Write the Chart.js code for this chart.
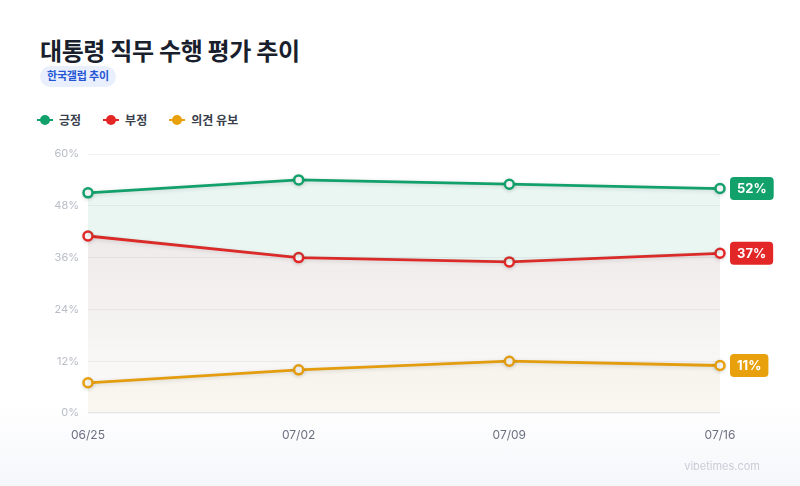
<!DOCTYPE html>
<html lang="ko">
<head>
<meta charset="UTF-8">
<title>대통령 직무 수행 평가 추이</title>
<script src="https://cdn.jsdelivr.net/npm/chart.js@4.4.1/dist/chart.umd.min.js"></script>
<style>
  html, body { margin: 0; padding: 0; }
  body {
    width: 800px; height: 486px; overflow: hidden; position: relative;
    font-family: Inter, "Noto Sans CJK KR", sans-serif;
    background: linear-gradient(180deg, #ffffff 0%, #ffffff 82%, #f6f7fb 100%);
  }
  h1 {
    position: absolute; left: 40px; top: 32px; margin: 0;
    font-size: 24px; font-weight: 700; color: #1a1f2e; letter-spacing: -0.4px;
  }
  .badge {
    position: absolute; left: 40px; top: 66px; height: 21px; line-height: 21px;
    padding: 0 7px; border-radius: 11px; background: #e9effc;
    color: #2456d6; font-size: 11px; font-weight: 700; letter-spacing: -0.2px;
  }
  #legend {
    position: absolute; left: 37px; top: 111px; display: flex; gap: 22px;
    font-size: 12px; font-weight: 700; color: #3a3f4c;
  }
  .item { display: flex; align-items: center; gap: 6px; }
  .mark { position: relative; width: 16px; height: 10px; }
  .mark::before { content: ""; position: absolute; left: 0; right: 0; top: 4px; height: 2px; background: var(--c); }
  .mark::after { content: ""; position: absolute; left: 3px; top: 0; width: 10px; height: 10px; border-radius: 50%; background: var(--c); }
  #wrap { position: absolute; left: 0; top: 0; width: 800px; height: 486px; }
  .footer {
    position: absolute; right: 40px; top: 459px; font-size: 11px; color: #c9ccd8;
  }
</style>
</head>
<body>
<h1>대통령 직무 수행 평가 추이</h1>
<div class="badge">한국갤럽 추이</div>
<div id="legend"></div>
<div id="wrap"><canvas id="chart" width="800" height="486"></canvas></div>
<div class="footer">vibetimes.com</div>

<script>
const labels = ['06/25', '07/02', '07/09', '07/16'];
const positive = [51, 54, 53, 52];
const negative = [41, 36, 35, 37];
const reserved = [7, 10, 12, 11];
const seriesNames = ['긍정', '부정', '의견 유보'];
const seriesColors = ['#12a06b', '#e32626', '#e8a00c'];

const legend = document.getElementById('legend');
seriesNames.forEach((name, i) => {
  const el = document.createElement('div');
  el.className = 'item';
  el.innerHTML = '<span class="mark" style="--c:' + seriesColors[i] + '"></span>' + name;
  legend.appendChild(el);
});

function redFill(context) {
  const area = context.chart.chartArea;
  if (!area) return 'rgba(120,90,80,0.08)';
  const g = context.chart.ctx.createLinearGradient(0, area.top + 80, 0, area.bottom);
  g.addColorStop(0, 'rgba(110,80,70,0.12)');
  g.addColorStop(1, 'rgba(110,80,70,0.02)');
  return g;
}

// rounded value tags after the last point
const endTags = {
  id: 'endTags',
  afterDatasetsDraw(chart) {
    const ctx = chart.ctx;
    chart.data.datasets.forEach((ds, i) => {
      const meta = chart.getDatasetMeta(i);
      const pt = meta.data[meta.data.length - 1];
      const text = ds.data[ds.data.length - 1] + '%';
      ctx.save();
      ctx.font = '700 13px Inter, "Noto Sans CJK KR", sans-serif';
      const w = ctx.measureText(text).width + 14;
      const h = 23;
      const x = pt.x + 10, y = pt.y - h / 2;
      ctx.fillStyle = ds.borderColor;
      ctx.beginPath();
      ctx.roundRect(x, y, w, h, 4);
      ctx.fill();
      ctx.fillStyle = '#fff';
      ctx.textAlign = 'left';
      ctx.textBaseline = 'middle';
      ctx.fillText(text, x + 7, pt.y + 1);
      ctx.restore();
    });
  }
};

// soft glow under the lines
const glow = {
  id: 'glow',
  beforeDatasetDraw(chart) {
    chart.ctx.save();
    chart.ctx.shadowColor = 'rgba(0,0,0,0.14)';
    chart.ctx.shadowBlur = 4;
    chart.ctx.shadowOffsetY = 1;
  },
  afterDatasetDraw(chart) {
    chart.ctx.restore();
  }
};

const common = {
  borderWidth: 2.8,
  pointRadius: 4.5,
  pointHoverRadius: 4.5,
  pointBackgroundColor: '#ffffff',
  pointBorderWidth: 2.5,
  tension: 0
};

new Chart(document.getElementById('chart'), {
  type: 'line',
  data: {
    labels: labels,
    datasets: [
      Object.assign({ label: seriesNames[0], data: positive, borderColor: seriesColors[0], pointBorderColor: seriesColors[0],
        fill: '+1', backgroundColor: 'rgba(18,160,107,0.09)' }, common),
      Object.assign({ label: seriesNames[1], data: negative, borderColor: seriesColors[1], pointBorderColor: seriesColors[1],
        fill: 'origin', backgroundColor: redFill }, common),
      Object.assign({ label: seriesNames[2], data: reserved, borderColor: seriesColors[2], pointBorderColor: seriesColors[2],
        fill: 'origin', backgroundColor: 'rgba(210,170,60,0.05)' }, common)
    ]
  },
  options: {
    responsive: false,
    animation: false,
    layout: { padding: { left: 40, right: 80, top: 154, bottom: 43 } },
    plugins: { legend: { display: false }, tooltip: { enabled: false } },
    scales: {
      x: {
        offset: false,
        grid: { display: false },
        border: { display: false },
        ticks: { color: '#6b7080', font: { size: 12, family: 'Inter' }, padding: 7, maxRotation: 0 },
        afterFit(scale) { scale.height = 30; }
      },
      y: {
        min: 0, max: 60,
        ticks: { stepSize: 12, color: '#b8bcc6', font: { size: 11, family: 'Inter' }, padding: 9,
          callback: v => v + '%' },
        grid: { color: ctx => ctx.tick.value === 0 ? '#e9ebef' : '#f2f2f4', lineWidth: ctx => ctx.tick.value === 0 ? 1.5 : 1, drawTicks: false },
        border: { display: false },
        afterFit(scale) { scale.width = 48; }
      }
    }
  },
  plugins: [glow, endTags]
});
</script>
</body>
</html>
